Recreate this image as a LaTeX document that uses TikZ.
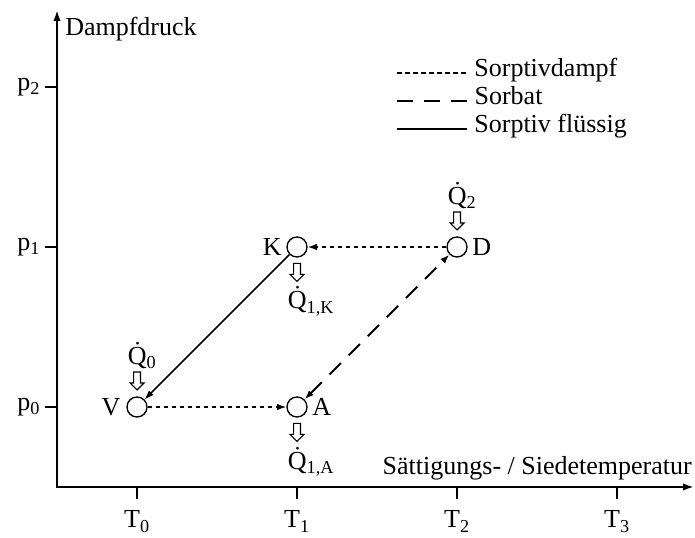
\documentclass[tikz,border=0pt]{standalone}
\usepackage{fontspec}
\setmainfont{Liberation Serif}
\usetikzlibrary{arrows.meta,calc}
\tikzset{
  % axes, arrow head at both ends
  achse/.style={line width=1.4pt, {Latex[length=8pt,width=5.5pt]}-{Latex[length=8pt,width=5.5pt]}, line join=miter},
  % tick marks
  strich/.style={line width=1.2pt},
  % state point of the cycle
  zustand/.style={circle, draw, line width=1pt, minimum size=15pt, inner sep=0pt},
  % line kinds
  dampflinie/.style={line width=1.1pt, dash pattern=on 3.5pt off 2.5pt},
  sorbatlinie/.style={line width=1.4pt, dash pattern=on 12pt off 8.25pt},
  fluessiglinie/.style={line width=1.1pt},
  % arrow tips on the connections
  pfeil/.style={-{Latex[length=7pt,width=5pt]}},
  doppelpfeil/.style={{Latex[length=7pt,width=5pt]}-{Latex[length=7pt,width=5pt]}},
  % hollow heat flow arrow, pointing down
  waerme/.pic={
    \draw[line width=0.8pt, line join=miter, fill=white]
      (-2.6pt,6.75pt) -- (2.6pt,6.75pt) -- (2.6pt,-1.5pt) -- (5.25pt,-1.5pt)
      -- (0pt,-6.75pt) -- (-5.25pt,-1.5pt) -- (-2.6pt,-1.5pt) -- cycle;
  },
  % heat flow label
  qtext/.style={anchor=base west, inner sep=0pt},
}

\begin{document}
\begin{tikzpicture}[x=120pt, y=120pt, font=\fontsize{19.5}{23}\selectfont]
  \useasboundingbox (-0.35625,-0.31875) rectangle (3.9875,3.04375);

  % axes
  \coordinate (O) at (0,0);
  \coordinate (yEnde) at (0,2.98);
  \coordinate (xEnde) at (3.98,0);
  \draw[achse] (yEnde) -- (O) -- (xEnde);
  \node[anchor=base west, inner sep=0pt] (yLabel) at (0.05,2.819) {Dampfdruck};
  \node[anchor=base east, inner sep=0pt] (xLabel) at (3.969,0.075) {Sättigungs- / Siedetemperatur};

  % ticks
  \foreach \i in {0,...,3} {
    \draw[strich] (\i+0.5,0) -- ++(0,-9pt);
    \node[anchor=base] (T\i) at (\i+0.5,-0.256) {T\textsubscript{\i}};
  }
  \foreach \i in {0,1,2} {
    \draw[strich] (0,\i+0.5) -- ++(-9pt,0) node[left, inner sep=3pt] (p\i) {p\textsubscript{\i}};
  }

  % legend
  \foreach \stil/\txt/\y [count=\i] in {dampflinie/Sorptivdampf/2.5875, sorbatlinie/Sorbat/2.4125, fluessiglinie/Sorptiv flüssig/2.2375} {
    \draw[\stil] (2.125,\y) -- (2.5625,\y) node[anchor=mid west, inner sep=5pt] (leg\i) {\txt};
  }

  % states
  \node[zustand, label={[label distance=1pt]left:V}] (V) at (0.5,0.5) {};
  \node[zustand, label={[label distance=0pt]left:K}] (K) at (1.5,1.5) {};
  \node[zustand, label={[label distance=0pt]right:D}] (D) at (2.5,1.5) {};
  \node[zustand, label={[label distance=0pt]right:A}] (A) at (1.5,0.5) {};

  % connections
  \draw[dampflinie, pfeil] (V) -- (A);
  \draw[dampflinie, pfeil] (D) -- (K);
  \draw[fluessiglinie, pfeil] (K) -- (V);
  \draw[sorbatlinie, doppelpfeil] (A) -- (D);

  % heat flows
  \pic at ([yshift=19.5pt]V.center) {waerme};
  \node[qtext] (qV) at ([xshift=-7pt,yshift=32pt]V.center) {\.{Q}\textsubscript{0}};
  \pic at ([yshift=19.5pt]D.center) {waerme};
  \node[qtext] (qD) at ([xshift=-7pt,yshift=32pt]D.center) {\.{Q}\textsubscript{2}};
  \pic at ([yshift=-19pt]K.center) {waerme};
  \node[qtext] (qK) at ([xshift=-7pt,yshift=-46.5pt]K.center) {\.{Q}\textsubscript{1,K}};
  \pic at ([yshift=-19pt]A.center) {waerme};
  \node[qtext] (qA) at ([xshift=-7pt,yshift=-47pt]A.center) {\.{Q}\textsubscript{1,A}};
\end{tikzpicture}
\end{document}
